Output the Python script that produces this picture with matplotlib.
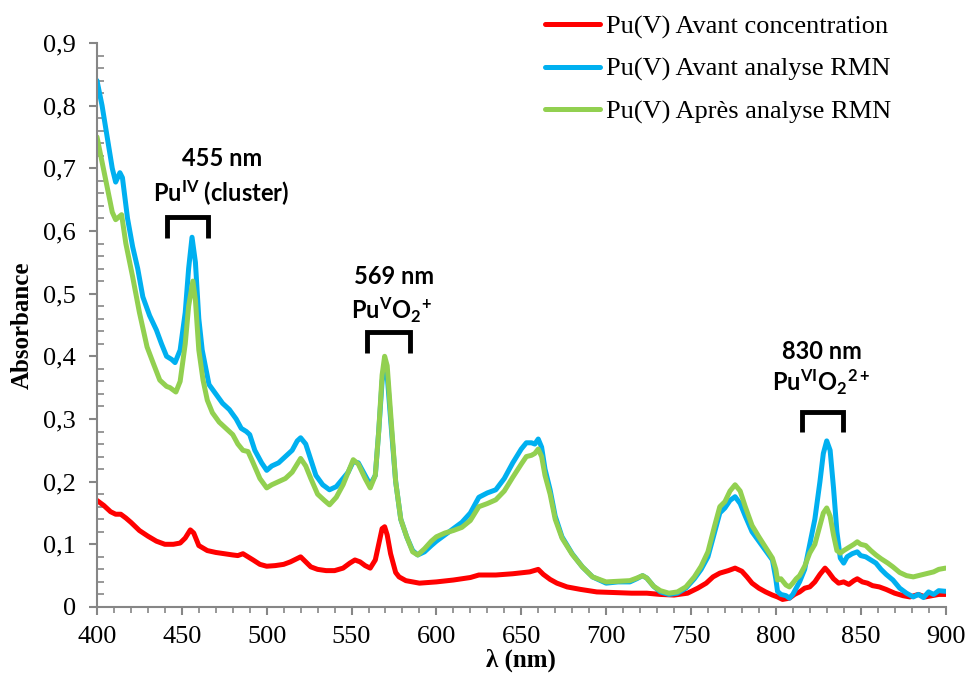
import matplotlib
matplotlib.use("Agg")
import matplotlib.pyplot as plt
from matplotlib.ticker import MultipleLocator, FuncFormatter

# Pu(V) Avant concentration
wl_red = [400, 404, 408, 411, 414, 417, 420, 425, 430, 435, 440, 445, 449, 452, 455, 457, 460, 465,
          470, 475, 480, 483, 486, 489, 492, 496, 500, 505, 510, 514, 517, 520, 523, 526, 530, 535,
          540, 545, 549, 552, 555, 558, 561, 564, 566, 568, 569.5, 571, 573, 576, 578, 582, 586, 590,
          600, 610, 620, 625, 635, 645, 655, 660, 663, 667, 671, 677, 685, 694.5, 705, 715, 724, 732,
          740, 748, 754, 759, 763, 767, 772, 776, 780, 783, 786, 790, 794, 798, 801, 804, 808, 811,
          814, 817, 820, 823, 826, 829, 831, 834, 837, 840, 843, 846, 848, 851, 854, 857, 861, 865,
          870, 875, 879, 884, 888, 892, 896, 900]
abs_red = [0.17, 0.162, 0.152, 0.148, 0.148, 0.142, 0.135, 0.122, 0.113, 0.105, 0.1, 0.1, 0.102, 0.11,
           0.123, 0.118, 0.098, 0.09, 0.087, 0.085, 0.083, 0.082, 0.085, 0.08, 0.075, 0.068, 0.065,
           0.066, 0.068, 0.072, 0.076, 0.08, 0.072, 0.064, 0.06, 0.058, 0.058, 0.062, 0.07, 0.075,
           0.072, 0.066, 0.062, 0.075, 0.1, 0.125, 0.128, 0.115, 0.085, 0.055, 0.048, 0.042, 0.04,
           0.038, 0.04, 0.043, 0.047, 0.051, 0.051, 0.053, 0.056, 0.06, 0.052, 0.044, 0.038, 0.032,
           0.028, 0.024, 0.023, 0.022, 0.022, 0.02, 0.019, 0.022, 0.03, 0.038, 0.048, 0.054, 0.058,
           0.062, 0.057, 0.048, 0.038, 0.03, 0.024, 0.019, 0.016, 0.012, 0.014, 0.02, 0.024, 0.03,
           0.032, 0.04, 0.052, 0.062, 0.056, 0.045, 0.038, 0.04, 0.036, 0.042, 0.045, 0.04, 0.038,
           0.034, 0.032, 0.028, 0.022, 0.018, 0.016, 0.02, 0.016, 0.018, 0.02, 0.02]

# Pu(V) Avant analyse RMN
wl_blue = [400, 403, 406, 409, 411, 413.5, 415, 418, 421, 424, 427, 431, 435, 438, 441, 444, 446, 449,
           452, 454, 456, 458, 460, 462, 466, 470, 474, 478, 482, 485, 488, 490, 493, 497, 500, 503,
           507, 511, 515, 518, 520, 523, 526, 529, 533, 537, 541, 545, 548, 551, 554, 558, 561, 564,
           566, 568, 569.5, 571, 573, 576, 579, 582.5, 586, 589, 593, 597, 600, 605, 610, 615, 620,
           625, 630, 635, 640, 645, 650, 653, 656, 658, 660, 662, 664, 667, 670, 674, 680, 686, 692,
           700, 707, 714, 718, 721.5, 724, 728, 732, 737, 742, 747, 752, 756, 760, 764, 767, 770, 773,
           776, 779, 782, 786, 790, 794, 798, 800, 801, 803, 806, 808, 810, 812, 814, 817, 820, 823,
           826, 828, 830, 832, 834, 836, 838, 840, 842, 845, 848, 850, 853, 856, 859, 862, 865, 869,
           873, 877, 881, 884, 887, 890, 893, 896, 900]
abs_blue = [0.84, 0.8, 0.75, 0.7, 0.678, 0.693, 0.685, 0.62, 0.575, 0.54, 0.495, 0.465, 0.442, 0.42,
            0.4, 0.395, 0.39, 0.41, 0.47, 0.54, 0.59, 0.55, 0.46, 0.41, 0.355, 0.34, 0.325, 0.315,
            0.3, 0.285, 0.28, 0.275, 0.25, 0.23, 0.218, 0.225, 0.23, 0.24, 0.25, 0.265, 0.27, 0.26,
            0.235, 0.21, 0.195, 0.187, 0.192, 0.205, 0.215, 0.232, 0.23, 0.21, 0.195, 0.21, 0.28,
            0.36, 0.385, 0.37, 0.3, 0.2, 0.14, 0.112, 0.09, 0.083, 0.088, 0.098, 0.105, 0.115, 0.125,
            0.135, 0.15, 0.175, 0.182, 0.187, 0.205, 0.23, 0.252, 0.262, 0.262, 0.26, 0.268, 0.255,
            0.22, 0.187, 0.145, 0.112, 0.085, 0.064, 0.048, 0.038, 0.04, 0.04, 0.045, 0.05, 0.046,
            0.033, 0.024, 0.02, 0.022, 0.03, 0.045, 0.06, 0.08, 0.12, 0.15, 0.158, 0.17, 0.176,
            0.165, 0.145, 0.12, 0.105, 0.09, 0.075, 0.045, 0.025, 0.02, 0.018, 0.014, 0.02, 0.03,
            0.04, 0.06, 0.1, 0.14, 0.2, 0.245, 0.265, 0.25, 0.19, 0.12, 0.078, 0.07, 0.08, 0.085,
            0.088, 0.082, 0.08, 0.075, 0.07, 0.06, 0.052, 0.043, 0.03, 0.022, 0.016, 0.02, 0.015,
            0.024, 0.02, 0.026, 0.025]

# Pu(V) Après analyse RMN
wl_green = [400, 403, 406, 409, 411, 414.5, 417, 421, 425, 429.5, 433, 437, 441, 443, 446.5, 449, 452,
            454, 456.5, 458, 460, 462.5, 465, 468, 472, 476, 480, 483, 486, 489, 492, 496, 500, 503,
            507, 511, 515, 518, 520, 523, 526, 530, 534, 537, 541, 545, 548, 551, 554, 558, 561, 564,
            566, 568, 569.5, 571, 573, 576, 579, 582.5, 586, 589, 593, 597, 600, 605, 610, 615, 620,
            625, 630, 635, 640, 645, 650, 653, 656, 658, 660, 662, 664, 667, 670, 674, 680, 686, 692,
            700, 707, 714, 718, 721.5, 724, 728, 732, 737, 742, 747, 752, 756, 760, 764, 767, 770,
            773, 776, 779, 782, 786, 790, 794, 798, 800, 801, 803, 806, 808, 810, 812, 814, 817, 820,
            823, 826, 828, 830, 832, 834, 836, 838, 840, 843, 846, 848, 850, 853, 856, 859, 862, 866,
            869, 873, 877, 881, 884, 887, 890, 893, 896, 900]
abs_green = [0.75, 0.71, 0.67, 0.63, 0.618, 0.626, 0.58, 0.527, 0.47, 0.415, 0.39, 0.362, 0.352,
             0.35, 0.343, 0.36, 0.42, 0.48, 0.52, 0.49, 0.41, 0.362, 0.33, 0.31, 0.295, 0.285, 0.275,
             0.26, 0.25, 0.248, 0.23, 0.205, 0.19, 0.195, 0.2, 0.205, 0.215, 0.228, 0.237, 0.225,
             0.205, 0.18, 0.17, 0.163, 0.175, 0.195, 0.215, 0.235, 0.228, 0.205, 0.19, 0.21, 0.28,
             0.37, 0.4, 0.385, 0.31, 0.2, 0.14, 0.112, 0.088, 0.083, 0.093, 0.105, 0.112, 0.118,
             0.122, 0.127, 0.138, 0.16, 0.165, 0.171, 0.185, 0.207, 0.228, 0.24, 0.242, 0.245, 0.252,
             0.24, 0.21, 0.18, 0.14, 0.11, 0.084, 0.064, 0.048, 0.04, 0.041, 0.042, 0.046, 0.05,
             0.046, 0.033, 0.026, 0.022, 0.024, 0.032, 0.048, 0.065, 0.088, 0.13, 0.16, 0.168, 0.185,
             0.195, 0.185, 0.16, 0.13, 0.112, 0.095, 0.078, 0.06, 0.043, 0.045, 0.035, 0.032, 0.038,
             0.045, 0.05, 0.065, 0.086, 0.1, 0.13, 0.15, 0.158, 0.145, 0.115, 0.09, 0.086, 0.09,
             0.095, 0.1, 0.104, 0.1, 0.098, 0.09, 0.083, 0.077, 0.07, 0.064, 0.055, 0.05, 0.048,
             0.05, 0.052, 0.054, 0.056, 0.06, 0.062]

labels = ["Pu(V) Avant concentration", "Pu(V) Avant analyse RMN", "Pu(V) Après analyse RMN"]
colors = ["#FF0000", "#00B0F0", "#92D050"]

plt.rcParams['font.family'] = ['Liberation Serif', 'DejaVu Serif']
plt.rcParams['mathtext.fontset'] = 'custom'
plt.rcParams['mathtext.rm'] = 'Lato:bold'
plt.rcParams['mathtext.it'] = 'Lato:bold'
plt.rcParams['mathtext.bf'] = 'Lato:bold'

fig = plt.figure(figsize=(9.66, 6.8), dpi=100)
ax = fig.add_axes([0.1004, 0.1074, 0.8784, 0.8294])

lw = 3.6
ax.plot(wl_red, abs_red, color=colors[0], lw=lw, label=labels[0], solid_capstyle='round')
ax.plot(wl_blue, abs_blue, color=colors[1], lw=lw, label=labels[1], solid_capstyle='round')
ax.plot(wl_green, abs_green, color=colors[2], lw=lw, label=labels[2], solid_capstyle='round')

ax.set_xlim(400, 900)
ax.set_ylim(0, 0.9)

for s in ['top', 'right']:
    ax.spines[s].set_visible(False)
for s in ['left', 'bottom']:
    ax.spines[s].set_color('#868686')
    ax.spines[s].set_linewidth(1.5)

ax.xaxis.set_major_locator(MultipleLocator(50))
ax.xaxis.set_minor_locator(MultipleLocator(10))
ax.yaxis.set_major_locator(MultipleLocator(0.1))
ax.yaxis.set_minor_locator(MultipleLocator(0.02))
ax.yaxis.set_major_formatter(FuncFormatter(lambda v, p: "0" if abs(v) < 1e-9 else f"{v:.1f}".replace('.', ',')))

ax.tick_params(axis='x', which='major', direction='out', length=6, width=1.5, color='#868686',
               labelsize=19, pad=8)
ax.tick_params(axis='x', which='minor', direction='out', length=4, width=1.2, color='#868686')
ax.tick_params(axis='y', which='major', direction='out', length=6, width=1.5, color='#868686',
               labelsize=19, pad=9)
ax.tick_params(axis='y', which='minor', direction='in', length=5, width=1.2, color='#868686')

ax.set_xlabel('λ (nm)', fontsize=18, fontweight='bold', labelpad=0)
ax.set_ylabel('Absorbance', fontsize=18, fontweight='bold', labelpad=7)

# peak brackets and labels
bracket_kw = dict(color='black', lw=3.5, solid_joinstyle='miter', solid_capstyle='butt', clip_on=False)
ax.plot([441.2, 441.2, 465.4, 465.4], [0.589, 0.623, 0.623, 0.589], **bracket_kw)
ax.plot([559.0, 559.0, 584.3, 584.3], [0.405, 0.439, 0.439, 0.405], **bracket_kw)
ax.plot([815.2, 815.2, 839.3, 839.3], [0.279, 0.311, 0.311, 0.279], **bracket_kw)

txt_kw = dict(family='Lato', fontweight='bold', fontsize=17, ha='center', va='center')
ax.text(473.6, 0.716, '455 nm', **txt_kw)
ax.text(473.4, 0.660, r'Pu$^{IV}$ (cluster)', **txt_kw)
ax.text(575.0, 0.527, '569 nm', **txt_kw)
ax.text(573.7, 0.474, r'Pu$^{V}$O$_{2}$$^{+}$', **txt_kw)
ax.text(827.0, 0.407, '830 nm', **txt_kw)
ax.text(826.5, 0.358, r'Pu$^{VI}$O$_{2}$$^{2+}$', **txt_kw)

fig.legend(loc='upper left', bbox_to_anchor=(545 / 966, 0.978), frameon=False, fontsize=19,
           handlelength=2.1, handletextpad=0.2, labelspacing=0.7, borderpad=0, borderaxespad=0)

plt.savefig("out.png", dpi=100)
